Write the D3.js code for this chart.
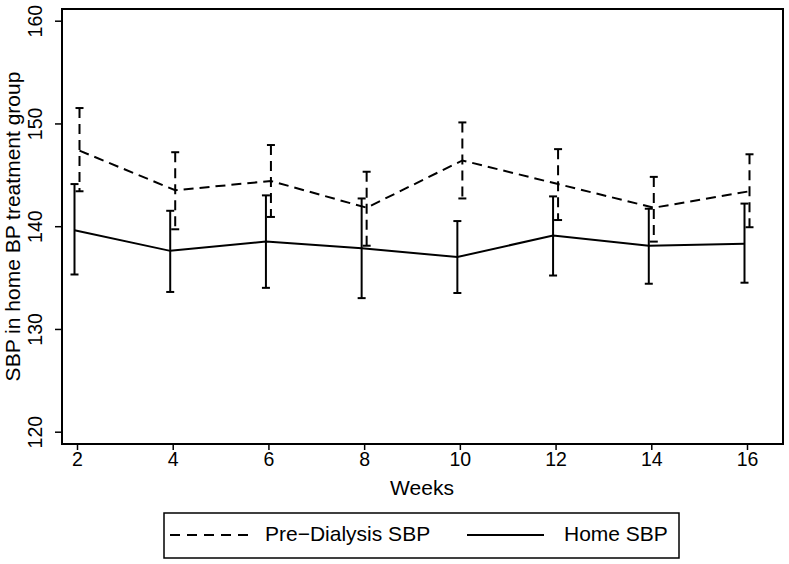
<!DOCTYPE html>
<html><head><meta charset="utf-8">
<script src="https://cdn.jsdelivr.net/npm/d3@7"></script>
<style>body{margin:0;background:#fff}svg{display:block}text{font-family:"Liberation Sans",Arial,sans-serif;fill:#000}</style>
</head><body><svg id="c" width="789" height="564"></svg>
<script>
const weeks = [2,4,6,8,10,12,14,16];
const xTicks = [2,4,6,8,10,12,14,16];
const yTicks = [120,130,140,150,160];
const preMean = [147.35,143.5,144.4,141.8,146.4,144.1,141.8,143.4];
const preHi   = [151.5,147.2,147.9,145.3,150.1,147.5,144.8,147.0];
const preLo   = [143.4,139.7,140.9,138.1,142.7,140.6,138.5,139.9];
const homeMean= [139.6,137.6,138.5,137.85,137.0,139.1,138.1,138.3];
const homeHi  = [144.1,141.5,143.0,142.7,140.5,142.9,141.7,142.2];
const homeLo  = [135.3,133.6,134.0,133.0,133.5,135.2,134.4,134.5];
const seriesNames = ["Pre\u2212Dialysis SBP","Home SBP"];

const svg = d3.select("#c");
const frame = {l:62, r:783, t:9, b:444};
const x = d3.scaleLinear().domain([2,16]).range([77,747]);
const y = d3.scaleLinear().domain([120,160]).range([431.7,20.7]);
const FS = 19.5, TFS = 21;

svg.append("rect").attr("x",frame.l).attr("y",frame.t).attr("width",frame.r-frame.l).attr("height",frame.b-frame.t)
  .attr("fill","none").attr("stroke","#000").attr("stroke-width",2);

const xa = svg.append("g").attr("transform",`translate(0,${frame.b})`)
  .call(d3.axisBottom(x).tickValues(xTicks).tickSize(6).tickPadding(2).tickFormat(d3.format("d")));
xa.select(".domain").remove();
xa.selectAll("line").attr("stroke","#000").attr("stroke-width",1.5);
xa.selectAll("text").attr("font-size",FS).attr("font-family","Liberation Sans, Arial, sans-serif").attr("fill","#000");

const ya = svg.append("g").attr("transform",`translate(${frame.l},0)`)
  .call(d3.axisLeft(y).tickValues(yTicks).tickSize(7).tickFormat(d3.format("d")));
ya.select(".domain").remove();
ya.selectAll("line").attr("stroke","#000").attr("stroke-width",1.5);
ya.selectAll("text").attr("font-size",FS).attr("font-family","Liberation Sans, Arial, sans-serif").attr("fill","#000")
  .attr("x",null).attr("dy",null).attr("text-anchor","middle")
  .attr("transform","translate(-20,0) rotate(-90)");

svg.append("text").attr("x",422).attr("y",495).attr("text-anchor","middle").attr("font-size",TFS).text("Weeks");
svg.append("text").attr("transform",`translate(20,${(frame.t+frame.b)/2}) rotate(-90)`)
  .attr("text-anchor","middle").attr("font-size",TFS).text("SBP in home BP treatment group");

function drawSeries(mean, hi, lo, dodge, dash){
  const g = svg.append("g");
  const pts = weeks.map((w,i)=>({w, m:mean[i], h:hi[i], l:lo[i]}));
  const line = d3.line().x(d=>x(d.w)+dodge).y(d=>y(d.m));
  g.append("path").datum(pts).attr("d",line).attr("fill","none").attr("stroke","#000")
    .attr("stroke-width",2).attr("stroke-dasharray",dash);
  const eb = g.selectAll("g.eb").data(pts).join("g");
  eb.append("line").attr("x1",d=>x(d.w)+dodge).attr("x2",d=>x(d.w)+dodge)
    .attr("y1",d=>y(d.h)).attr("y2",d=>y(d.l)).attr("stroke","#000").attr("stroke-width",2).attr("stroke-dasharray",dash);
  ["h","l"].forEach(k=>{
    eb.append("line").attr("x1",d=>x(d.w)+dodge-4).attr("x2",d=>x(d.w)+dodge+4)
      .attr("y1",d=>y(d[k])).attr("y2",d=>y(d[k])).attr("stroke","#000").attr("stroke-width",2);
  });
}
drawSeries(preMean, preHi, preLo, 2.5, "10,6");
drawSeries(homeMean, homeHi, homeLo, -2.5, null);

const lg = svg.append("g");
lg.append("rect").attr("x",164).attr("y",513).attr("width",515).attr("height",45)
  .attr("fill","none").attr("stroke","#000").attr("stroke-width",1.5);
lg.append("line").attr("x1",170).attr("x2",250).attr("y1",535).attr("y2",535)
  .attr("stroke","#000").attr("stroke-width",2).attr("stroke-dasharray","10,7");
lg.append("text").attr("x",265).attr("y",541).attr("font-size",TFS).text(seriesNames[0]);
lg.append("line").attr("x1",467).attr("x2",544).attr("y1",535).attr("y2",535)
  .attr("stroke","#000").attr("stroke-width",2);
lg.append("text").attr("x",564).attr("y",541).attr("font-size",TFS).text(seriesNames[1]);
</script></body></html>
